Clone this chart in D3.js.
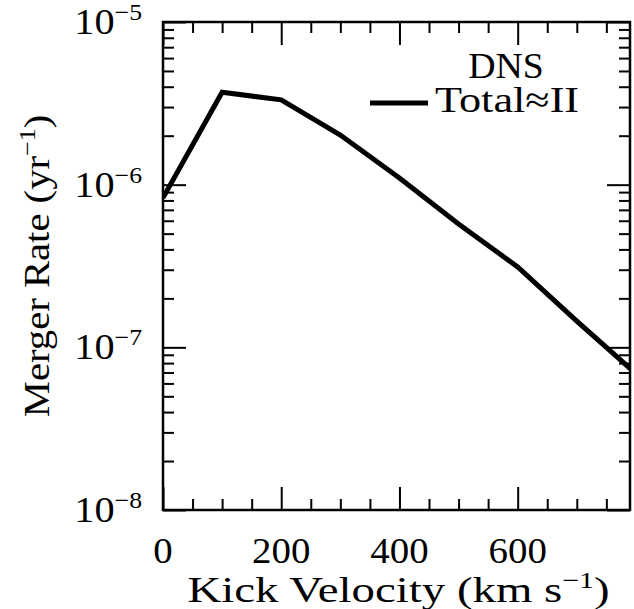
<!DOCTYPE html>
<html>
<head>
<meta charset="utf-8">
<script src="https://cdn.jsdelivr.net/npm/d3@7/dist/d3.min.js"></script>
<style>
  body { margin: 0; background: #fff; }
  svg { display: block; }
  .lbl { font-family: "Liberation Serif", "Times New Roman", serif; fill: #000; }
</style>
</head>
<body>
<div id="chart"></div>
<script>
// data
const velocities = [0, 100, 200, 300, 400, 500, 600, 700, 800];
const rates = [8.3e-7, 3.7e-6, 3.32e-6, 2.02e-6, 1.1e-6, 5.73e-7, 3.12e-7, 1.45e-7, 6.9e-8];
const xMajorTicks = [0, 200, 400, 600];
const xMinorTicks = [50, 100, 150, 250, 300, 350, 450, 500, 550, 650, 700, 750];
const yDecades = [-8, -7, -6, -5];
const legendTitle = 'DNS';
const seriesName = 'Total≈II';

const width = 634, height = 609;
const margin = { left: 163, right: 4, top: 22, bottom: 99 };
const fontSize = 36, supSize = 23;

const svg = d3.select('#chart').append('svg')
  .attr('width', width)
  .attr('height', height);

const x = d3.scaleLinear()
  .domain([0, 790])
  .range([margin.left, width - margin.right]);

const y = d3.scaleLog()
  .domain([1e-8, 1e-5])
  .range([height - margin.bottom, margin.top]);

const yMajorTicks = yDecades.map(d => Math.pow(10, d));
const yMinorTicks = [];
yDecades.slice(0, -1).forEach(d => {
  for (let k = 2; k <= 9; k++) yMinorTicks.push(k * Math.pow(10, d));
});

const x0 = x.range()[0], x1 = x.range()[1];
const y0 = y.range()[0], y1 = y.range()[1];

// draw ticks with d3 axes, inward facing
function addAxis(axis, tx, ty) {
  const g = svg.append('g')
    .attr('transform', `translate(${tx},${ty})`)
    .call(axis.tickFormat('').tickSizeOuter(0));
  g.select('.domain').remove();
  g.selectAll('.tick line').attr('stroke', '#000').attr('stroke-width', 2);
  return g;
}

const majorLen = 23, minorLen = 11;
addAxis(d3.axisBottom(x).tickValues(xMajorTicks).tickSize(-majorLen), 0, y0);
addAxis(d3.axisBottom(x).tickValues(xMinorTicks).tickSize(-minorLen), 0, y0);
addAxis(d3.axisTop(x).tickValues(xMajorTicks).tickSize(-majorLen), 0, y1);
addAxis(d3.axisTop(x).tickValues(xMinorTicks).tickSize(-minorLen), 0, y1);
addAxis(d3.axisLeft(y).tickValues(yMajorTicks).tickSize(-majorLen), x0, 0);
addAxis(d3.axisLeft(y).tickValues(yMinorTicks).tickSize(-minorLen), x0, 0);
addAxis(d3.axisRight(y).tickValues(yMajorTicks).tickSize(-majorLen), x1, 0);
addAxis(d3.axisRight(y).tickValues(yMinorTicks).tickSize(-minorLen), x1, 0);

// frame
svg.append('rect')
  .attr('x', x0).attr('y', y1)
  .attr('width', x1 - x0).attr('height', y0 - y1)
  .attr('fill', 'none')
  .attr('stroke', '#000')
  .attr('stroke-width', 2.5);

// curve
svg.append('clipPath').attr('id', 'plotclip')
  .append('rect')
  .attr('x', x0).attr('y', y1)
  .attr('width', x1 - x0).attr('height', y0 - y1);

const line = d3.line()
  .x((d, i) => x(velocities[i]))
  .y(d => y(d));

svg.append('path')
  .datum(rates)
  .attr('clip-path', 'url(#plotclip)')
  .attr('d', line)
  .attr('fill', 'none')
  .attr('stroke', '#000')
  .attr('stroke-width', 5)
  .attr('stroke-linejoin', 'miter');

// x tick labels
svg.append('g').selectAll('text')
  .data(xMajorTicks)
  .enter().append('text')
  .attr('class', 'lbl')
  .attr('transform', d => `translate(${x(d)},${y0 + 53}) scale(1.08,1)`)
  .attr('text-anchor', 'middle')
  .attr('font-size', fontSize)
  .text(d => d);

// y tick labels 10^n
const yl = svg.append('g').selectAll('text')
  .data(yDecades)
  .enter().append('text')
  .attr('class', 'lbl')
  .attr('transform', d => `translate(142,${y(Math.pow(10, d)) + 12}) scale(1.12,1)`)
  .attr('text-anchor', 'end')
  .attr('font-size', fontSize);
yl.append('tspan').text('10');
yl.append('tspan')
  .attr('font-size', supSize)
  .attr('dy', -14)
  .text(d => '\u2212' + Math.abs(d));

// axis titles (the original face is wider, so stretch a little)
const xt = svg.append('text')
  .attr('class', 'lbl')
  .attr('transform', `translate(${(x0 + x1) / 2 + 2},602) scale(1.3,1)`)
  .attr('text-anchor', 'middle')
  .attr('font-size', fontSize);
xt.append('tspan').text('Kick Velocity (km s');
xt.append('tspan').attr('font-size', supSize).attr('dy', -14).text('\u22121');
xt.append('tspan').attr('dy', 14).text(')');

const yt = svg.append('text')
  .attr('class', 'lbl')
  .attr('transform', `translate(49,${(y0 + y1) / 2}) rotate(-90) scale(1.13,1)`)
  .attr('text-anchor', 'middle')
  .attr('font-size', fontSize);
yt.append('tspan').text('Merger Rate (yr');
yt.append('tspan').attr('font-size', supSize).attr('dy', -14).text('\u22121');
yt.append('tspan').attr('dy', 14).text(')');

// legend
svg.append('text')
  .attr('class', 'lbl')
  .attr('transform', 'translate(506,78) scale(1.05,1)')
  .attr('text-anchor', 'middle')
  .attr('font-size', fontSize)
  .text(legendTitle);

svg.append('line')
  .attr('x1', 370).attr('x2', 428)
  .attr('y1', 103).attr('y2', 103)
  .attr('stroke', '#000')
  .attr('stroke-width', 5);

svg.append('text')
  .attr('class', 'lbl')
  .attr('transform', 'translate(435,112) scale(1.23,1)')
  .attr('font-size', fontSize)
  .text(seriesName);
</script>
</body>
</html>
